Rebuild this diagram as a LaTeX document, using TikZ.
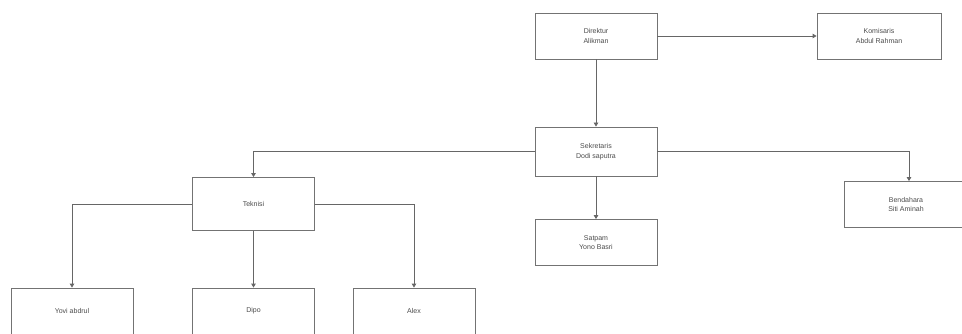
\documentclass[tikz,border=0pt]{standalone}
\usepackage{fontspec}
\setmainfont{Liberation Sans}
\usetikzlibrary{arrows.meta}
\begin{document}
\begin{tikzpicture}[x=1pt,y=-1pt,
  box/.style={draw=black!55, line width=0.8pt, fill=white, minimum width=122pt, minimum height=46pt,
    inner sep=0pt, align=center, font=\fontsize{7}{9.5}\selectfont, text=black!70},
  conn/.style={draw=black!60, line width=0.8pt, -{Triangle[width=4.5pt,length=4pt]}}]
\useasboundingbox (0,0) rectangle (962,334);
\node[box] (dir) at (596,36) {Direktur\\Alikman};
\node[box, minimum width=124pt] (kom) at (879,36) {Komisaris\\Abdul Rahman};
\node[box, minimum height=49pt] (sek) at (596,151.5) {Sekretaris\\Dodi saputra};
\node[box, minimum width=124pt] (ben) at (906,204.5) {Bendahara\\Siti Aminah};
\node[box, minimum height=53pt] (tek) at (253.5,204) {Teknisi};
\node[box] (sat) at (596,242.5) {Satpam\\Yono Basri};
\node[box] (yov) at (72,311) {Yovi abdrul};
\node[box] (dip) at (253.5,311) {Dipo};
\node[box] (ale) at (414,311) {Alex};
\draw[conn] (dir.east) -- (kom.west);
\draw[conn] (dir.south) -- (sek.north);
\draw[conn] (sek.west) -| (tek.north);
\draw[conn] (sek.east) -| ([xshift=3pt]ben.north);
\draw[conn] (sek.south) -- (sat.north);
\draw[conn] (tek.west) -| (yov.north);
\draw[conn] (tek.south) -- (dip.north);
\draw[conn] (tek.east) -| (ale.north);
\end{tikzpicture}
\end{document}
